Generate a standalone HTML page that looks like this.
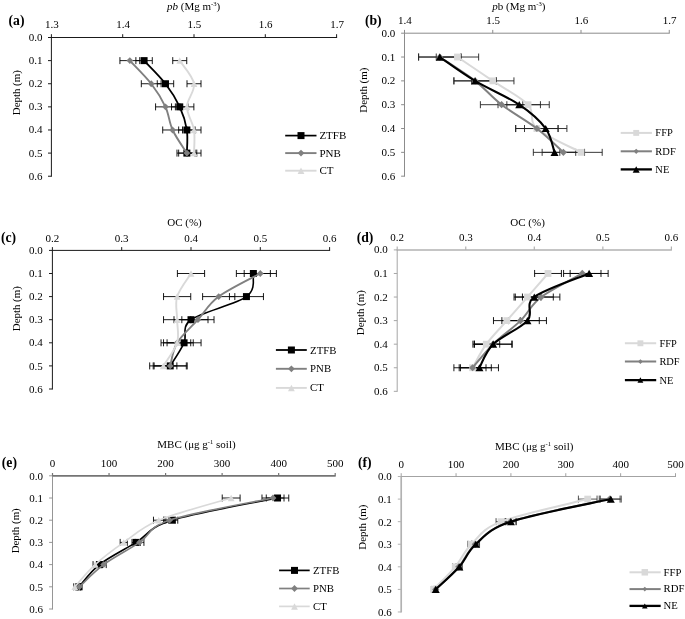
<!DOCTYPE html>
<html lang="en">
<head>
<meta charset="utf-8">
<title>Depth profiles of bulk density, organic carbon and microbial biomass carbon</title>
<style>
html,body{margin:0;padding:0;background:#fff;}
body{width:685px;height:619px;overflow:hidden;}
svg{display:block;will-change:transform;transform:translateZ(0);}
svg text{font-family:"Liberation Serif", "DejaVu Serif", serif;fill:#000;}
</style>
</head>
<body>
<svg width="685" height="619" viewBox="0 0 685 619">
<rect width="685" height="619" fill="#fff"/>
<g>
<line x1="50.9" y1="37.5" x2="337.1" y2="37.5" stroke="#1a1a1a" stroke-width="1"/>
<line x1="51.4" y1="37.5" x2="51.4" y2="176.72" stroke="#1a1a1a" stroke-width="1"/>
<line x1="51.4" y1="34.2" x2="51.4" y2="37.5" stroke="#1a1a1a" stroke-width="1"/>
<line x1="122.7" y1="34.2" x2="122.7" y2="37.5" stroke="#1a1a1a" stroke-width="1"/>
<line x1="194" y1="34.2" x2="194" y2="37.5" stroke="#1a1a1a" stroke-width="1"/>
<line x1="265.3" y1="34.2" x2="265.3" y2="37.5" stroke="#1a1a1a" stroke-width="1"/>
<line x1="336.6" y1="34.2" x2="336.6" y2="37.5" stroke="#1a1a1a" stroke-width="1"/>
<line x1="48" y1="37.5" x2="51.4" y2="37.5" stroke="#1a1a1a" stroke-width="1"/>
<line x1="48" y1="60.62" x2="51.4" y2="60.62" stroke="#1a1a1a" stroke-width="1"/>
<line x1="48" y1="83.74" x2="51.4" y2="83.74" stroke="#1a1a1a" stroke-width="1"/>
<line x1="48" y1="106.86" x2="51.4" y2="106.86" stroke="#1a1a1a" stroke-width="1"/>
<line x1="48" y1="129.98" x2="51.4" y2="129.98" stroke="#1a1a1a" stroke-width="1"/>
<line x1="48" y1="153.1" x2="51.4" y2="153.1" stroke="#1a1a1a" stroke-width="1"/>
<line x1="48" y1="176.22" x2="51.4" y2="176.22" stroke="#1a1a1a" stroke-width="1"/>
<text x="51.8" y="28.1" font-size="11" text-anchor="middle">1.3</text>
<text x="123.1" y="28.1" font-size="11" text-anchor="middle">1.4</text>
<text x="194.4" y="28.1" font-size="11" text-anchor="middle">1.5</text>
<text x="265.7" y="28.1" font-size="11" text-anchor="middle">1.6</text>
<text x="337" y="28.1" font-size="11" text-anchor="middle">1.7</text>
<text x="42.4" y="41" font-size="11" text-anchor="end">0.0</text>
<text x="42.4" y="64.12" font-size="11" text-anchor="end">0.1</text>
<text x="42.4" y="87.24" font-size="11" text-anchor="end">0.2</text>
<text x="42.4" y="110.36" font-size="11" text-anchor="end">0.3</text>
<text x="42.4" y="133.48" font-size="11" text-anchor="end">0.4</text>
<text x="42.4" y="156.6" font-size="11" text-anchor="end">0.5</text>
<text x="42.4" y="179.72" font-size="11" text-anchor="end">0.6</text>
<text x="193.6" y="10" font-size="11" text-anchor="middle"><tspan font-style="italic">pb</tspan> (Mg m<tspan font-size="6.6" dy="-4.2">-3</tspan><tspan dy="4.2">)</tspan></text>
<text x="8.5" y="24.8" font-size="13.7" font-weight="bold">(a)</text>
<text transform="translate(19.9 92.7) rotate(-90)" font-size="10.9" text-anchor="middle">Depth (m)</text>
<path d="M135.89 60.62H152.29M135.89 57.12V64.12M152.29 57.12V64.12M157.28 83.74H173.68M157.28 80.24V87.24M173.68 80.24V87.24M171.54 106.86H187.94M171.54 103.36V110.36M187.94 103.36V110.36M178.67 129.98H195.07M178.67 126.48V133.48M195.07 126.48V133.48M178.67 153.1H195.07M178.67 149.6V156.6M195.07 149.6V156.6" fill="none" stroke="#000" stroke-width="0.9"/>
<path d="M119.93 60.62H139.73M119.93 57.12V64.12M139.73 57.12V64.12M141.32 83.74H161.12M141.32 80.24V87.24M161.12 80.24V87.24M155.58 106.86H175.38M155.58 103.36V110.36M175.38 103.36V110.36M162.71 129.98H182.51M162.71 126.48V133.48M182.51 126.48V133.48M176.97 153.1H196.77M176.97 149.6V156.6M196.77 149.6V156.6" fill="none" stroke="#000" stroke-width="0.9"/>
<path d="M172.74 60.62H186.74M172.74 57.12V64.12M186.74 57.12V64.12M187 83.74H201M187 80.24V87.24M201 80.24V87.24M179.87 106.86H193.87M179.87 103.36V110.36M193.87 103.36V110.36M187 129.98H201M187 126.48V133.48M201 126.48V133.48M187 153.1H201M187 149.6V156.6M201 149.6V156.6" fill="none" stroke="#000" stroke-width="0.9"/>
<path d="M144.09 60.62 C147.65 64.47 159.54 76.03 165.48 83.74 C171.42 91.45 176.17 99.15 179.74 106.86 C183.3 114.57 185.68 122.27 186.87 129.98 C188.06 137.69 186.87 149.25 186.87 153.1" fill="none" stroke="#000000" stroke-width="1.8" stroke-linecap="round" stroke-linejoin="round"/>
<rect x="140.59" y="57.12" width="7" height="7" fill="#000000"/>
<rect x="161.98" y="80.24" width="7" height="7" fill="#000000"/>
<rect x="176.24" y="103.36" width="7" height="7" fill="#000000"/>
<rect x="183.37" y="126.48" width="7" height="7" fill="#000000"/>
<rect x="183.37" y="149.6" width="7" height="7" fill="#000000"/>
<path d="M129.83 60.62 C133.39 64.47 145.28 76.03 151.22 83.74 C157.16 91.45 161.91 99.15 165.48 106.86 C169.04 114.57 169.04 122.27 172.61 129.98 C176.17 137.69 184.49 149.25 186.87 153.1" fill="none" stroke="#808080" stroke-width="1.9" stroke-linecap="round" stroke-linejoin="round"/>
<polygon points="129.83,57.22 133.23,60.62 129.83,64.02 126.43,60.62" fill="#808080"/>
<polygon points="151.22,80.34 154.62,83.74 151.22,87.14 147.82,83.74" fill="#808080"/>
<polygon points="165.48,103.46 168.88,106.86 165.48,110.26 162.08,106.86" fill="#808080"/>
<polygon points="172.61,126.58 176.01,129.98 172.61,133.38 169.21,129.98" fill="#808080"/>
<polygon points="186.87,149.7 190.27,153.1 186.87,156.5 183.47,153.1" fill="#808080"/>
<path d="M179.74 60.62 C182.12 64.47 192.81 76.03 194 83.74 C195.19 91.45 186.87 99.15 186.87 106.86 C186.87 114.57 192.81 122.27 194 129.98 C195.19 137.69 194 149.25 194 153.1" fill="none" stroke="#d9d9d9" stroke-width="1.9" stroke-linecap="round" stroke-linejoin="round"/>
<polygon points="179.74,57.37 183.14,63.87 176.34,63.87" fill="#d9d9d9"/>
<polygon points="194,80.49 197.4,86.99 190.6,86.99" fill="#d9d9d9"/>
<polygon points="186.87,103.61 190.27,110.11 183.47,110.11" fill="#d9d9d9"/>
<polygon points="194,126.73 197.4,133.23 190.6,133.23" fill="#d9d9d9"/>
<polygon points="194,149.85 197.4,156.35 190.6,156.35" fill="#d9d9d9"/>
<line x1="285.2" y1="135.6" x2="316.5" y2="135.6" stroke="#000000" stroke-width="1.7"/>
<rect x="297.5" y="132.1" width="7" height="7" fill="#000000"/>
<text x="319.4" y="139.1" font-size="11">ZTFB</text>
<line x1="285.2" y1="153.1" x2="316.5" y2="153.1" stroke="#808080" stroke-width="1.9"/>
<polygon points="301,149.7 304.4,153.1 301,156.5 297.6,153.1" fill="#808080"/>
<text x="319.4" y="156.5" font-size="11">PNB</text>
<line x1="285.2" y1="170.7" x2="316.5" y2="170.7" stroke="#d9d9d9" stroke-width="1.9"/>
<polygon points="301,167.45 304.4,173.95 297.6,173.95" fill="#d9d9d9"/>
<text x="319.4" y="173.9" font-size="11">CT</text>
</g>
<g>
<line x1="404" y1="33.2" x2="669.75" y2="33.2" stroke="#8c8c8c" stroke-width="1"/>
<line x1="404.5" y1="33.2" x2="404.5" y2="176.68" stroke="#8c8c8c" stroke-width="1"/>
<line x1="404.5" y1="29.9" x2="404.5" y2="33.2" stroke="#8c8c8c" stroke-width="1"/>
<line x1="492.75" y1="29.9" x2="492.75" y2="33.2" stroke="#8c8c8c" stroke-width="1"/>
<line x1="581" y1="29.9" x2="581" y2="33.2" stroke="#8c8c8c" stroke-width="1"/>
<line x1="669.25" y1="29.9" x2="669.25" y2="33.2" stroke="#8c8c8c" stroke-width="1"/>
<line x1="401.1" y1="33.2" x2="404.5" y2="33.2" stroke="#8c8c8c" stroke-width="1"/>
<line x1="401.1" y1="57.03" x2="404.5" y2="57.03" stroke="#8c8c8c" stroke-width="1"/>
<line x1="401.1" y1="80.86" x2="404.5" y2="80.86" stroke="#8c8c8c" stroke-width="1"/>
<line x1="401.1" y1="104.69" x2="404.5" y2="104.69" stroke="#8c8c8c" stroke-width="1"/>
<line x1="401.1" y1="128.52" x2="404.5" y2="128.52" stroke="#8c8c8c" stroke-width="1"/>
<line x1="401.1" y1="152.35" x2="404.5" y2="152.35" stroke="#8c8c8c" stroke-width="1"/>
<line x1="401.1" y1="176.18" x2="404.5" y2="176.18" stroke="#8c8c8c" stroke-width="1"/>
<text x="404.9" y="23.9" font-size="11" text-anchor="middle">1.4</text>
<text x="493.15" y="23.9" font-size="11" text-anchor="middle">1.5</text>
<text x="581.4" y="23.9" font-size="11" text-anchor="middle">1.6</text>
<text x="669.65" y="23.9" font-size="11" text-anchor="middle">1.7</text>
<text x="395.3" y="36.7" font-size="11" text-anchor="end">0.0</text>
<text x="395.3" y="60.53" font-size="11" text-anchor="end">0.1</text>
<text x="395.3" y="84.36" font-size="11" text-anchor="end">0.2</text>
<text x="395.3" y="108.19" font-size="11" text-anchor="end">0.3</text>
<text x="395.3" y="132.02" font-size="11" text-anchor="end">0.4</text>
<text x="395.3" y="155.85" font-size="11" text-anchor="end">0.5</text>
<text x="395.3" y="179.68" font-size="11" text-anchor="end">0.6</text>
<text x="518.9" y="10" font-size="11" text-anchor="middle"><tspan font-style="italic">p</tspan>b (Mg m<tspan font-size="6.6" dy="-4.2">-3</tspan><tspan dy="4.2">)</tspan></text>
<text x="364.9" y="25.4" font-size="13.7" font-weight="bold">(b)</text>
<text transform="translate(367.2 90.2) rotate(-90)" font-size="10.9" text-anchor="middle">Depth (m)</text>
<path d="M436.25 57.03H478.65M436.25 53.53V60.53M478.65 53.53V60.53M471.55 80.86H513.95M471.55 77.36V84.36M513.95 77.36V84.36M506.85 104.69H549.25M506.85 101.19V108.19M549.25 101.19V108.19M515.68 128.52H558.08M515.68 125.02V132.02M558.08 125.02V132.02M559.8 152.35H602.2M559.8 148.85V155.85M602.2 148.85V155.85" fill="none" stroke="#222" stroke-width="0.9"/>
<path d="M418.6 57.03H461M418.6 53.53V60.53M461 53.53V60.53M453.9 80.86H496.3M453.9 77.36V84.36M496.3 77.36V84.36M480.38 104.69H522.78M480.38 101.19V108.19M522.78 101.19V108.19M515.68 128.52H558.08M515.68 125.02V132.02M558.08 125.02V132.02M542.15 152.35H584.55M542.15 148.85V155.85M584.55 148.85V155.85" fill="none" stroke="#222" stroke-width="0.9"/>
<path d="M418.6 57.03H461M418.6 53.53V60.53M461 53.53V60.53M453.9 80.86H496.3M453.9 77.36V84.36M496.3 77.36V84.36M498.03 104.69H540.43M498.03 101.19V108.19M540.43 101.19V108.19M524.5 128.52H566.9M524.5 125.02V132.02M566.9 125.02V132.02M533.33 152.35H575.73M533.33 148.85V155.85M575.73 148.85V155.85" fill="none" stroke="#222" stroke-width="0.9"/>
<path d="M457.45 57.03 C463.33 61 480.98 72.92 492.75 80.86 C504.52 88.8 520.7 96.75 528.05 104.69 C535.4 112.63 528.05 120.58 536.88 128.52 C545.7 136.46 573.65 148.38 581 152.35" fill="none" stroke="#d9d9d9" stroke-width="2" stroke-linecap="round" stroke-linejoin="round"/>
<rect x="454.05" y="53.63" width="6.8" height="6.8" fill="#d9d9d9"/>
<rect x="489.35" y="77.46" width="6.8" height="6.8" fill="#d9d9d9"/>
<rect x="524.65" y="101.29" width="6.8" height="6.8" fill="#d9d9d9"/>
<rect x="533.48" y="125.12" width="6.8" height="6.8" fill="#d9d9d9"/>
<rect x="577.6" y="148.95" width="6.8" height="6.8" fill="#d9d9d9"/>
<path d="M439.8 57.03 C445.68 61 464.8 72.92 475.1 80.86 C485.4 88.8 491.28 96.75 501.58 104.69 C511.87 112.63 526.58 120.58 536.88 128.52 C547.17 136.46 558.94 148.38 563.35 152.35" fill="none" stroke="#808080" stroke-width="2" stroke-linecap="round" stroke-linejoin="round"/>
<polygon points="439.8,53.43 443.4,57.03 439.8,60.63 436.2,57.03" fill="#808080"/>
<polygon points="475.1,77.26 478.7,80.86 475.1,84.46 471.5,80.86" fill="#808080"/>
<polygon points="501.58,101.09 505.18,104.69 501.58,108.29 497.98,104.69" fill="#808080"/>
<polygon points="536.88,124.92 540.48,128.52 536.88,132.12 533.28,128.52" fill="#808080"/>
<polygon points="563.35,148.75 566.95,152.35 563.35,155.95 559.75,152.35" fill="#808080"/>
<path d="M439.8 57.03 C445.68 61 461.86 72.92 475.1 80.86 C488.34 88.8 507.46 96.75 519.23 104.69 C530.99 112.63 539.82 120.58 545.7 128.52 C551.58 136.46 553.05 148.38 554.53 152.35" fill="none" stroke="#000000" stroke-width="2.1" stroke-linecap="round" stroke-linejoin="round"/>
<polygon points="439.8,53.43 443.8,60.63 435.8,60.63" fill="#000000"/>
<polygon points="475.1,77.26 479.1,84.46 471.1,84.46" fill="#000000"/>
<polygon points="519.23,101.09 523.23,108.29 515.23,108.29" fill="#000000"/>
<polygon points="545.7,124.92 549.7,132.12 541.7,132.12" fill="#000000"/>
<polygon points="554.53,148.75 558.53,155.95 550.53,155.95" fill="#000000"/>
<line x1="620.7" y1="132.9" x2="651.9" y2="132.9" stroke="#d9d9d9" stroke-width="2"/>
<rect x="633.25" y="129.95" width="5.9" height="5.9" fill="#d9d9d9"/>
<text x="655.3" y="136.2" font-size="10.5">FFP</text>
<line x1="620.7" y1="151.3" x2="651.9" y2="151.3" stroke="#808080" stroke-width="2"/>
<polygon points="636.2,148.7 638.8,151.3 636.2,153.9 633.6,151.3" fill="#808080"/>
<text x="655.3" y="154.6" font-size="10.5">RDF</text>
<line x1="620.7" y1="169.4" x2="651.9" y2="169.4" stroke="#000000" stroke-width="2.3"/>
<polygon points="636.2,166.15 639.7,172.65 632.7,172.65" fill="#000000"/>
<text x="655.3" y="172.9" font-size="10.5">NE</text>
</g>
<g>
<line x1="51.9" y1="250.4" x2="330.1" y2="250.4" stroke="#1a1a1a" stroke-width="1"/>
<line x1="52.4" y1="250.4" x2="52.4" y2="389.5" stroke="#1a1a1a" stroke-width="1"/>
<line x1="52.4" y1="247.1" x2="52.4" y2="250.4" stroke="#1a1a1a" stroke-width="1"/>
<line x1="121.7" y1="247.1" x2="121.7" y2="250.4" stroke="#1a1a1a" stroke-width="1"/>
<line x1="191" y1="247.1" x2="191" y2="250.4" stroke="#1a1a1a" stroke-width="1"/>
<line x1="260.3" y1="247.1" x2="260.3" y2="250.4" stroke="#1a1a1a" stroke-width="1"/>
<line x1="329.6" y1="247.1" x2="329.6" y2="250.4" stroke="#1a1a1a" stroke-width="1"/>
<line x1="49" y1="250.4" x2="52.4" y2="250.4" stroke="#1a1a1a" stroke-width="1"/>
<line x1="49" y1="273.5" x2="52.4" y2="273.5" stroke="#1a1a1a" stroke-width="1"/>
<line x1="49" y1="296.6" x2="52.4" y2="296.6" stroke="#1a1a1a" stroke-width="1"/>
<line x1="49" y1="319.7" x2="52.4" y2="319.7" stroke="#1a1a1a" stroke-width="1"/>
<line x1="49" y1="342.8" x2="52.4" y2="342.8" stroke="#1a1a1a" stroke-width="1"/>
<line x1="49" y1="365.9" x2="52.4" y2="365.9" stroke="#1a1a1a" stroke-width="1"/>
<line x1="49" y1="389" x2="52.4" y2="389" stroke="#1a1a1a" stroke-width="1"/>
<text x="52.4" y="241.8" font-size="11" text-anchor="middle">0.2</text>
<text x="121.7" y="241.8" font-size="11" text-anchor="middle">0.3</text>
<text x="191" y="241.8" font-size="11" text-anchor="middle">0.4</text>
<text x="260.3" y="241.8" font-size="11" text-anchor="middle">0.5</text>
<text x="329.6" y="241.8" font-size="11" text-anchor="middle">0.6</text>
<text x="42.85" y="254" font-size="11" text-anchor="end">0.0</text>
<text x="42.85" y="277.1" font-size="11" text-anchor="end">0.1</text>
<text x="42.85" y="300.2" font-size="11" text-anchor="end">0.2</text>
<text x="42.85" y="323.3" font-size="11" text-anchor="end">0.3</text>
<text x="42.85" y="346.4" font-size="11" text-anchor="end">0.4</text>
<text x="42.85" y="369.5" font-size="11" text-anchor="end">0.5</text>
<text x="42.85" y="392.6" font-size="11" text-anchor="end">0.6</text>
<text x="184.5" y="225.7" font-size="11" text-anchor="middle">OC (%)</text>
<text x="0.9" y="241.8" font-size="13.7" font-weight="bold">(c)</text>
<text transform="translate(20.2 308.7) rotate(-90)" font-size="10.9" text-anchor="middle">Depth (m)</text>
<path d="M236.37 273.5H270.37M236.37 270V277M270.37 270V277M229.44 296.6H263.44M229.44 293.1V300.1M263.44 293.1V300.1M174 319.7H208M174 316.2V323.2M208 316.2V323.2M167.07 342.8H201.07M167.07 339.3V346.3M201.07 339.3V346.3M153.21 365.9H187.21M153.21 362.4V369.4M187.21 362.4V369.4" fill="none" stroke="#000" stroke-width="0.9"/>
<path d="M244.2 273.5H276.4M244.2 270V277M276.4 270V277M202.62 296.6H234.82M202.62 293.1V300.1M234.82 293.1V300.1M181.83 319.7H214.03M181.83 316.2V323.2M214.03 316.2V323.2M161.04 342.8H193.24M161.04 339.3V346.3M193.24 339.3V346.3M154.11 365.9H186.31M154.11 362.4V369.4M186.31 362.4V369.4" fill="none" stroke="#000" stroke-width="0.9"/>
<path d="M177.4 273.5H204.6M177.4 270V277M204.6 270V277M163.54 296.6H190.74M163.54 293.1V300.1M190.74 293.1V300.1M163.54 319.7H190.74M163.54 316.2V323.2M190.74 316.2V323.2M163.54 342.8H190.74M163.54 339.3V346.3M190.74 339.3V346.3M149.68 365.9H176.88M149.68 362.4V369.4M176.88 362.4V369.4" fill="none" stroke="#000" stroke-width="0.9"/>
<path d="M253.37 273.5 C252.21 277.35 256.83 288.9 246.44 296.6 C236.04 304.3 201.39 312 191 319.7 C180.61 327.4 187.53 335.1 184.07 342.8 C180.6 350.5 172.52 362.05 170.21 365.9" fill="none" stroke="#000000" stroke-width="1.6" stroke-linecap="round" stroke-linejoin="round"/>
<rect x="249.87" y="270" width="7" height="7" fill="#000000"/>
<rect x="242.94" y="293.1" width="7" height="7" fill="#000000"/>
<rect x="187.5" y="316.2" width="7" height="7" fill="#000000"/>
<rect x="180.57" y="339.3" width="7" height="7" fill="#000000"/>
<rect x="166.71" y="362.4" width="7" height="7" fill="#000000"/>
<path d="M260.3 273.5 C253.37 277.35 229.12 288.9 218.72 296.6 C208.32 304.3 204.86 312 197.93 319.7 C191 327.4 181.76 335.1 177.14 342.8 C172.52 350.5 171.36 362.05 170.21 365.9" fill="none" stroke="#808080" stroke-width="1.9" stroke-linecap="round" stroke-linejoin="round"/>
<polygon points="260.3,270.1 263.7,273.5 260.3,276.9 256.9,273.5" fill="#808080"/>
<polygon points="218.72,293.2 222.12,296.6 218.72,300 215.32,296.6" fill="#808080"/>
<polygon points="197.93,316.3 201.33,319.7 197.93,323.1 194.53,319.7" fill="#808080"/>
<polygon points="177.14,339.4 180.54,342.8 177.14,346.2 173.74,342.8" fill="#808080"/>
<polygon points="170.21,362.5 173.61,365.9 170.21,369.3 166.81,365.9" fill="#808080"/>
<path d="M191 273.5 C188.69 277.35 179.45 288.9 177.14 296.6 C174.83 304.3 177.14 312 177.14 319.7 C177.14 327.4 179.45 335.1 177.14 342.8 C174.83 350.5 165.59 362.05 163.28 365.9" fill="none" stroke="#d9d9d9" stroke-width="1.9" stroke-linecap="round" stroke-linejoin="round"/>
<polygon points="191,270.25 194.4,276.75 187.6,276.75" fill="#d9d9d9"/>
<polygon points="177.14,293.35 180.54,299.85 173.74,299.85" fill="#d9d9d9"/>
<polygon points="177.14,316.45 180.54,322.95 173.74,322.95" fill="#d9d9d9"/>
<polygon points="177.14,339.55 180.54,346.05 173.74,346.05" fill="#d9d9d9"/>
<polygon points="163.28,362.65 166.68,369.15 159.88,369.15" fill="#d9d9d9"/>
<line x1="275.9" y1="350" x2="306.8" y2="350" stroke="#000000" stroke-width="1.8"/>
<rect x="287.9" y="346.5" width="7" height="7" fill="#000000"/>
<text x="310.1" y="353.6" font-size="10.8">ZTFB</text>
<line x1="275.9" y1="368.8" x2="306.8" y2="368.8" stroke="#808080" stroke-width="1.9"/>
<polygon points="291.4,365.4 294.8,368.8 291.4,372.2 288,368.8" fill="#808080"/>
<text x="310.1" y="372.4" font-size="10.8">PNB</text>
<line x1="275.9" y1="387.9" x2="306.8" y2="387.9" stroke="#d9d9d9" stroke-width="1.9"/>
<polygon points="291.4,384.65 294.8,391.15 288,391.15" fill="#d9d9d9"/>
<text x="310.1" y="391.4" font-size="10.8">CT</text>
</g>
<g>
<line x1="396.7" y1="249.9" x2="671.9" y2="249.9" stroke="#b2b2b2" stroke-width="1.5"/>
<line x1="397.2" y1="249.9" x2="397.2" y2="391.82" stroke="#a6a6a6" stroke-width="1"/>
<line x1="397.2" y1="246.6" x2="397.2" y2="249.9" stroke="#b2b2b2" stroke-width="1.2"/>
<line x1="465.75" y1="246.6" x2="465.75" y2="249.9" stroke="#b2b2b2" stroke-width="1.2"/>
<line x1="534.3" y1="246.6" x2="534.3" y2="249.9" stroke="#b2b2b2" stroke-width="1.2"/>
<line x1="602.85" y1="246.6" x2="602.85" y2="249.9" stroke="#b2b2b2" stroke-width="1.2"/>
<line x1="671.4" y1="246.6" x2="671.4" y2="249.9" stroke="#b2b2b2" stroke-width="1.2"/>
<line x1="393.8" y1="249.9" x2="397.2" y2="249.9" stroke="#a6a6a6" stroke-width="1"/>
<line x1="393.8" y1="273.47" x2="397.2" y2="273.47" stroke="#a6a6a6" stroke-width="1"/>
<line x1="393.8" y1="297.04" x2="397.2" y2="297.04" stroke="#a6a6a6" stroke-width="1"/>
<line x1="393.8" y1="320.61" x2="397.2" y2="320.61" stroke="#a6a6a6" stroke-width="1"/>
<line x1="393.8" y1="344.18" x2="397.2" y2="344.18" stroke="#a6a6a6" stroke-width="1"/>
<line x1="393.8" y1="367.75" x2="397.2" y2="367.75" stroke="#a6a6a6" stroke-width="1"/>
<line x1="393.8" y1="391.32" x2="397.2" y2="391.32" stroke="#a6a6a6" stroke-width="1"/>
<text x="397.2" y="240.8" font-size="11" text-anchor="middle">0.2</text>
<text x="465.75" y="240.8" font-size="11" text-anchor="middle">0.3</text>
<text x="534.3" y="240.8" font-size="11" text-anchor="middle">0.4</text>
<text x="602.85" y="240.8" font-size="11" text-anchor="middle">0.5</text>
<text x="671.4" y="240.8" font-size="11" text-anchor="middle">0.6</text>
<text x="387.8" y="253.4" font-size="11" text-anchor="end">0.0</text>
<text x="387.8" y="276.97" font-size="11" text-anchor="end">0.1</text>
<text x="387.8" y="300.54" font-size="11" text-anchor="end">0.2</text>
<text x="387.8" y="324.11" font-size="11" text-anchor="end">0.3</text>
<text x="387.8" y="347.68" font-size="11" text-anchor="end">0.4</text>
<text x="387.8" y="371.25" font-size="11" text-anchor="end">0.5</text>
<text x="387.8" y="394.82" font-size="11" text-anchor="end">0.6</text>
<text x="527.6" y="225.7" font-size="11" text-anchor="middle">OC (%)</text>
<text x="356.7" y="241.8" font-size="13.7" font-weight="bold">(d)</text>
<text transform="translate(363.7 312.7) rotate(-90)" font-size="10.9" text-anchor="middle">Depth (m)</text>
<path d="M534.61 273.47H561.41M534.61 269.97V276.97M561.41 269.97V276.97M514.04 297.04H540.84M514.04 293.54V300.54M540.84 293.54V300.54M493.48 320.61H520.28M493.48 317.11V324.11M520.28 317.11V324.11M472.92 344.18H499.71M472.92 340.68V347.68M499.71 340.68V347.68M459.2 367.75H486M459.2 364.25V371.25M486 364.25V371.25" fill="none" stroke="#000" stroke-width="0.9"/>
<path d="M563.58 273.47H600.99M563.58 269.97V276.97M600.99 269.97V276.97M522.45 297.04H559.86M522.45 293.54V300.54M559.86 293.54V300.54M501.89 320.61H539.29M501.89 317.11V324.11M539.29 317.11V324.11M474.47 344.18H511.87M474.47 340.68V347.68M511.87 340.68V347.68M453.9 367.75H491.3M453.9 364.25V371.25M491.3 364.25V371.25" fill="none" stroke="#000" stroke-width="0.9"/>
<path d="M570.14 273.47H608.14M570.14 269.97V276.97M608.14 269.97V276.97M515.3 297.04H553.3M515.3 293.54V300.54M553.3 293.54V300.54M508.44 320.61H546.44M508.44 317.11V324.11M546.44 317.11V324.11M474.17 344.18H512.17M474.17 340.68V347.68M512.17 340.68V347.68M460.46 367.75H498.46M460.46 364.25V371.25M498.46 364.25V371.25" fill="none" stroke="#000" stroke-width="0.9"/>
<path d="M548.01 273.47 C544.58 277.4 534.3 289.18 527.44 297.04 C520.59 304.9 513.73 312.75 506.88 320.61 C500.02 328.47 492.03 336.32 486.31 344.18 C480.6 352.04 474.89 363.82 472.6 367.75" fill="none" stroke="#d9d9d9" stroke-width="2" stroke-linecap="round" stroke-linejoin="round"/>
<rect x="544.61" y="270.07" width="6.8" height="6.8" fill="#d9d9d9"/>
<rect x="524.04" y="293.64" width="6.8" height="6.8" fill="#d9d9d9"/>
<rect x="503.48" y="317.21" width="6.8" height="6.8" fill="#d9d9d9"/>
<rect x="482.92" y="340.78" width="6.8" height="6.8" fill="#d9d9d9"/>
<rect x="469.2" y="364.35" width="6.8" height="6.8" fill="#d9d9d9"/>
<path d="M582.28 273.47 C575.43 277.4 551.44 289.18 541.15 297.04 C530.87 304.9 528.59 312.75 520.59 320.61 C512.59 328.47 501.17 336.32 493.17 344.18 C485.17 352.04 476.03 363.82 472.6 367.75" fill="none" stroke="#808080" stroke-width="2" stroke-linecap="round" stroke-linejoin="round"/>
<polygon points="582.28,269.87 585.88,273.47 582.28,277.07 578.68,273.47" fill="#808080"/>
<polygon points="541.15,293.44 544.75,297.04 541.15,300.64 537.55,297.04" fill="#808080"/>
<polygon points="520.59,317.01 524.19,320.61 520.59,324.21 516.99,320.61" fill="#808080"/>
<polygon points="493.17,340.58 496.77,344.18 493.17,347.78 489.57,344.18" fill="#808080"/>
<polygon points="472.6,364.15 476.2,367.75 472.6,371.35 469,367.75" fill="#808080"/>
<path d="M589.14 273.47 C580 277.4 544.58 289.18 534.3 297.04 C524.02 304.9 534.3 312.75 527.44 320.61 C520.59 328.47 501.17 336.32 493.17 344.18 C485.17 352.04 481.75 363.82 479.46 367.75" fill="none" stroke="#000000" stroke-width="2.1" stroke-linecap="round" stroke-linejoin="round"/>
<polygon points="589.14,269.87 593.14,277.07 585.14,277.07" fill="#000000"/>
<polygon points="534.3,293.44 538.3,300.64 530.3,300.64" fill="#000000"/>
<polygon points="527.44,317.01 531.44,324.21 523.44,324.21" fill="#000000"/>
<polygon points="493.17,340.58 497.17,347.78 489.17,347.78" fill="#000000"/>
<polygon points="479.46,364.15 483.46,371.35 475.46,371.35" fill="#000000"/>
<line x1="624.9" y1="343.3" x2="656.2" y2="343.3" stroke="#d9d9d9" stroke-width="2"/>
<rect x="637.45" y="340.35" width="5.9" height="5.9" fill="#d9d9d9"/>
<text x="659.4" y="346.8" font-size="10.4">FFP</text>
<line x1="624.9" y1="361.6" x2="656.2" y2="361.6" stroke="#808080" stroke-width="2"/>
<polygon points="640.4,359.2 642.8,361.6 640.4,364 638,361.6" fill="#808080"/>
<text x="659.4" y="365.1" font-size="10.4">RDF</text>
<line x1="624.9" y1="380.1" x2="656.2" y2="380.1" stroke="#000000" stroke-width="2.3"/>
<polygon points="640.4,377.35 643.35,382.85 637.45,382.85" fill="#000000"/>
<text x="659.4" y="383.6" font-size="10.4">NE</text>
</g>
<g>
<line x1="52" y1="475.8" x2="335.7" y2="475.8" stroke="#747474" stroke-width="1.75"/>
<line x1="52.5" y1="475.8" x2="52.5" y2="609.5" stroke="#8a8a8a" stroke-width="0.9"/>
<line x1="52.5" y1="473" x2="52.5" y2="475.8" stroke="#747474" stroke-width="1.2"/>
<line x1="109.04" y1="473" x2="109.04" y2="475.8" stroke="#747474" stroke-width="1.2"/>
<line x1="165.58" y1="473" x2="165.58" y2="475.8" stroke="#747474" stroke-width="1.2"/>
<line x1="222.12" y1="473" x2="222.12" y2="475.8" stroke="#747474" stroke-width="1.2"/>
<line x1="278.66" y1="473" x2="278.66" y2="475.8" stroke="#747474" stroke-width="1.2"/>
<line x1="335.2" y1="473" x2="335.2" y2="475.8" stroke="#747474" stroke-width="1.2"/>
<line x1="49.1" y1="475.8" x2="52.5" y2="475.8" stroke="#8a8a8a" stroke-width="0.9"/>
<line x1="49.1" y1="498" x2="52.5" y2="498" stroke="#8a8a8a" stroke-width="0.9"/>
<line x1="49.1" y1="520.2" x2="52.5" y2="520.2" stroke="#8a8a8a" stroke-width="0.9"/>
<line x1="49.1" y1="542.4" x2="52.5" y2="542.4" stroke="#8a8a8a" stroke-width="0.9"/>
<line x1="49.1" y1="564.6" x2="52.5" y2="564.6" stroke="#8a8a8a" stroke-width="0.9"/>
<line x1="49.1" y1="586.8" x2="52.5" y2="586.8" stroke="#8a8a8a" stroke-width="0.9"/>
<line x1="49.1" y1="609" x2="52.5" y2="609" stroke="#8a8a8a" stroke-width="0.9"/>
<text x="52.5" y="467" font-size="11" text-anchor="middle">0</text>
<text x="109.04" y="467" font-size="11" text-anchor="middle">100</text>
<text x="165.58" y="467" font-size="11" text-anchor="middle">200</text>
<text x="222.12" y="467" font-size="11" text-anchor="middle">300</text>
<text x="278.66" y="467" font-size="11" text-anchor="middle">400</text>
<text x="335.2" y="467" font-size="11" text-anchor="middle">500</text>
<text x="43" y="479.6" font-size="11" text-anchor="end">0.0</text>
<text x="43" y="501.8" font-size="11" text-anchor="end">0.1</text>
<text x="43" y="524" font-size="11" text-anchor="end">0.2</text>
<text x="43" y="546.2" font-size="11" text-anchor="end">0.3</text>
<text x="43" y="568.4" font-size="11" text-anchor="end">0.4</text>
<text x="43" y="590.6" font-size="11" text-anchor="end">0.5</text>
<text x="43" y="612.8" font-size="11" text-anchor="end">0.6</text>
<text x="196.5" y="448.4" font-size="11" text-anchor="middle">MBC (μg g<tspan font-size="6.6" dy="-4.2">-1</tspan><tspan dy="4.2"> soil)</tspan></text>
<text x="1.8" y="466.8" font-size="13.7" font-weight="bold">(e)</text>
<text transform="translate(19.1 530.8) rotate(-90)" font-size="10.9" text-anchor="middle">Depth (m)</text>
<path d="M266.28 498H288.78M266.28 494.5V501.5M288.78 494.5V501.5M165.83 520.2H177.76M165.83 516.7V523.7M177.76 516.7V523.7M132 542.4H140.36M132 538.9V545.9M140.36 538.9V545.9M97.08 564.6H101.77M97.08 561.1V568.1M101.77 561.1V568.1M77.75 586.8H80.4M77.75 583.3V590.3M80.4 583.3V590.3" fill="none" stroke="#000" stroke-width="0.9"/>
<path d="M261.98 498H284.03M261.98 494.5V501.5M284.03 494.5V501.5M163.69 520.2H175.39M163.69 516.7V523.7M175.39 516.7V523.7M135.22 542.4H143.93M135.22 538.9V545.9M143.93 538.9V545.9M101.11 564.6H106.23M101.11 561.1V568.1M106.23 561.1V568.1M78.01 586.8H80.7M78.01 583.3V590.3M80.7 583.3V590.3" fill="none" stroke="#000" stroke-width="0.9"/>
<path d="M222.23 498H240.1M222.23 494.5V501.5M240.1 494.5V501.5M153.48 520.2H164.11M153.48 516.7V523.7M164.11 516.7V523.7M120.18 542.4H127.3M120.18 538.9V545.9M127.3 538.9V545.9M93.05 564.6H97.32M93.05 561.1V568.1M97.32 561.1V568.1M73.72 586.8H75.95M73.72 583.3V590.3M75.95 583.3V590.3" fill="none" stroke="#000" stroke-width="0.9"/>
<path d="M277.53 498 C259.91 501.7 195.36 512.8 171.8 520.2 C148.24 527.6 148.24 535 136.18 542.4 C124.12 549.8 108.95 557.2 99.43 564.6 C89.91 572 82.47 583.1 79.07 586.8" fill="none" stroke="#000000" stroke-width="1.7" stroke-linecap="round" stroke-linejoin="round"/>
<rect x="274.03" y="494.5" width="7" height="7" fill="#000000"/>
<rect x="168.3" y="516.7" width="7" height="7" fill="#000000"/>
<rect x="132.68" y="538.9" width="7" height="7" fill="#000000"/>
<rect x="95.93" y="561.1" width="7" height="7" fill="#000000"/>
<rect x="75.57" y="583.3" width="7" height="7" fill="#000000"/>
<path d="M273.01 498 C255.76 501.7 191.78 512.8 169.54 520.2 C147.3 527.6 150.55 535 139.57 542.4 C128.59 549.8 113.7 557.2 103.67 564.6 C93.63 572 83.41 583.1 79.36 586.8" fill="none" stroke="#808080" stroke-width="1.7" stroke-linecap="round" stroke-linejoin="round"/>
<polygon points="273.01,494.6 276.41,498 273.01,501.4 269.61,498" fill="#808080"/>
<polygon points="169.54,516.8 172.94,520.2 169.54,523.6 166.14,520.2" fill="#808080"/>
<polygon points="139.57,539 142.97,542.4 139.57,545.8 136.17,542.4" fill="#808080"/>
<polygon points="103.67,561.2 107.07,564.6 103.67,568 100.27,564.6" fill="#808080"/>
<polygon points="79.36,583.4 82.76,586.8 79.36,590.2 75.96,586.8" fill="#808080"/>
<path d="M231.17 498 C219.1 501.7 176.7 512.8 158.8 520.2 C140.89 527.6 134.34 535 123.74 542.4 C113.14 549.8 103.34 557.2 95.19 564.6 C87.04 572 78.23 583.1 74.83 586.8" fill="none" stroke="#d9d9d9" stroke-width="1.7" stroke-linecap="round" stroke-linejoin="round"/>
<polygon points="231.17,494.75 234.57,501.25 227.77,501.25" fill="#d9d9d9"/>
<polygon points="158.8,516.95 162.2,523.45 155.4,523.45" fill="#d9d9d9"/>
<polygon points="123.74,539.15 127.14,545.65 120.34,545.65" fill="#d9d9d9"/>
<polygon points="95.19,561.35 98.59,567.85 91.79,567.85" fill="#d9d9d9"/>
<polygon points="74.83,583.55 78.23,590.05 71.43,590.05" fill="#d9d9d9"/>
<line x1="279.1" y1="570.4" x2="309.7" y2="570.4" stroke="#000000" stroke-width="1.7"/>
<rect x="291" y="566.9" width="7" height="7" fill="#000000"/>
<text x="313" y="573.9" font-size="10.8">ZTFB</text>
<line x1="279.1" y1="588.5" x2="309.7" y2="588.5" stroke="#808080" stroke-width="1.7"/>
<polygon points="294.5,585.1 297.9,588.5 294.5,591.9 291.1,588.5" fill="#808080"/>
<text x="313" y="592" font-size="10.8">PNB</text>
<line x1="279.1" y1="606.4" x2="309.7" y2="606.4" stroke="#d9d9d9" stroke-width="1.7"/>
<polygon points="294.5,603.15 297.9,609.65 291.1,609.65" fill="#d9d9d9"/>
<text x="313" y="610.1" font-size="10.8">CT</text>
</g>
<g>
<line x1="400.7" y1="476.5" x2="676" y2="476.5" stroke="#999999" stroke-width="0.9"/>
<line x1="401.2" y1="476.5" x2="401.2" y2="612.48" stroke="#b2b2b2" stroke-width="1.7"/>
<line x1="401.2" y1="473.2" x2="401.2" y2="476.5" stroke="#999999" stroke-width="0.9"/>
<line x1="456.06" y1="473.2" x2="456.06" y2="476.5" stroke="#999999" stroke-width="0.9"/>
<line x1="510.92" y1="473.2" x2="510.92" y2="476.5" stroke="#999999" stroke-width="0.9"/>
<line x1="565.78" y1="473.2" x2="565.78" y2="476.5" stroke="#999999" stroke-width="0.9"/>
<line x1="620.64" y1="473.2" x2="620.64" y2="476.5" stroke="#999999" stroke-width="0.9"/>
<line x1="675.5" y1="473.2" x2="675.5" y2="476.5" stroke="#999999" stroke-width="0.9"/>
<line x1="397.8" y1="476.5" x2="401.2" y2="476.5" stroke="#b2b2b2" stroke-width="1"/>
<line x1="397.8" y1="499.08" x2="401.2" y2="499.08" stroke="#b2b2b2" stroke-width="1"/>
<line x1="397.8" y1="521.66" x2="401.2" y2="521.66" stroke="#b2b2b2" stroke-width="1"/>
<line x1="397.8" y1="544.24" x2="401.2" y2="544.24" stroke="#b2b2b2" stroke-width="1"/>
<line x1="397.8" y1="566.82" x2="401.2" y2="566.82" stroke="#b2b2b2" stroke-width="1"/>
<line x1="397.8" y1="589.4" x2="401.2" y2="589.4" stroke="#b2b2b2" stroke-width="1"/>
<line x1="397.8" y1="611.98" x2="401.2" y2="611.98" stroke="#b2b2b2" stroke-width="1"/>
<text x="401.2" y="467.6" font-size="11" text-anchor="middle">0</text>
<text x="456.06" y="467.6" font-size="11" text-anchor="middle">100</text>
<text x="510.92" y="467.6" font-size="11" text-anchor="middle">200</text>
<text x="565.78" y="467.6" font-size="11" text-anchor="middle">300</text>
<text x="620.64" y="467.6" font-size="11" text-anchor="middle">400</text>
<text x="675.5" y="467.6" font-size="11" text-anchor="middle">500</text>
<text x="391.7" y="480.4" font-size="11" text-anchor="end">0.0</text>
<text x="391.7" y="502.98" font-size="11" text-anchor="end">0.1</text>
<text x="391.7" y="525.56" font-size="11" text-anchor="end">0.2</text>
<text x="391.7" y="548.14" font-size="11" text-anchor="end">0.3</text>
<text x="391.7" y="570.72" font-size="11" text-anchor="end">0.4</text>
<text x="391.7" y="593.3" font-size="11" text-anchor="end">0.5</text>
<text x="391.7" y="615.88" font-size="11" text-anchor="end">0.6</text>
<text x="534.2" y="449.8" font-size="11" text-anchor="middle">MBC (μg g<tspan font-size="6.6" dy="-4.2">-1</tspan><tspan dy="4.2"> soil)</tspan></text>
<text x="357.9" y="467.1" font-size="13.7" font-weight="bold">(f)</text>
<text transform="translate(366 527.1) rotate(-90)" font-size="10.9" text-anchor="middle">Depth (m)</text>
<path d="M578.4 499.08H597.05M578.4 495.58V502.58M597.05 495.58V502.58M496.05 521.66H506.04M496.05 518.16V525.16M506.04 518.16V525.16M467.91 544.24H474.93M467.91 540.74V547.74M474.93 540.74V547.74M452.54 566.82H457.94M452.54 563.32V570.32M457.94 563.32V570.32M431.95 589.4H435.19M431.95 585.9V592.9M435.19 585.9V592.9" fill="none" stroke="#333" stroke-width="0.85"/>
<path d="M599.24 499.08H620.09M599.24 495.58V502.58M620.09 495.58V502.58M504.91 521.66H515.83M504.91 518.16V525.16M515.83 518.16V525.16M471.56 544.24H478.96M471.56 540.74V547.74M478.96 540.74V547.74M455.92 566.82H461.68M455.92 563.32V570.32M461.68 563.32V570.32M434.03 589.4H437.49M434.03 585.9V592.9M437.49 585.9V592.9" fill="none" stroke="#333" stroke-width="0.85"/>
<path d="M600.29 499.08H621.24M600.29 495.58V502.58M621.24 495.58V502.58M505.43 521.66H516.41M505.43 518.16V525.16M516.41 518.16V525.16M472.08 544.24H479.54M472.08 540.74V547.74M479.54 540.74V547.74M456.44 566.82H462.26M456.44 563.32V570.32M462.26 563.32V570.32M434.03 589.4H437.49M434.03 585.9V592.9M437.49 585.9V592.9" fill="none" stroke="#333" stroke-width="0.85"/>
<path d="M587.72 499.08 C573.28 502.84 520.43 514.13 501.05 521.66 C481.66 529.19 479.06 536.71 471.42 544.24 C463.79 551.77 461.55 559.29 455.24 566.82 C448.93 574.35 437.18 585.64 433.57 589.4" fill="none" stroke="#d9d9d9" stroke-width="2" stroke-linecap="round" stroke-linejoin="round"/>
<rect x="584.32" y="495.68" width="6.8" height="6.8" fill="#d9d9d9"/>
<rect x="497.65" y="518.26" width="6.8" height="6.8" fill="#d9d9d9"/>
<rect x="468.02" y="540.84" width="6.8" height="6.8" fill="#d9d9d9"/>
<rect x="451.84" y="563.42" width="6.8" height="6.8" fill="#d9d9d9"/>
<rect x="430.17" y="586" width="6.8" height="6.8" fill="#d9d9d9"/>
<path d="M609.67 499.08 C593.12 502.84 532.77 514.13 510.37 521.66 C487.97 529.19 483.86 536.71 475.26 544.24 C466.67 551.77 465.39 559.29 458.8 566.82 C452.22 574.35 439.6 585.64 435.76 589.4" fill="none" stroke="#808080" stroke-width="2" stroke-linecap="round" stroke-linejoin="round"/>
<polygon points="609.67,495.48 613.27,499.08 609.67,502.68 606.07,499.08" fill="#808080"/>
<polygon points="510.37,518.06 513.97,521.66 510.37,525.26 506.77,521.66" fill="#808080"/>
<polygon points="475.26,540.64 478.86,544.24 475.26,547.84 471.66,544.24" fill="#808080"/>
<polygon points="458.8,563.22 462.4,566.82 458.8,570.42 455.2,566.82" fill="#808080"/>
<polygon points="435.76,585.8 439.36,589.4 435.76,593 432.16,589.4" fill="#808080"/>
<path d="M610.77 499.08 C594.12 502.84 533.41 514.13 510.92 521.66 C488.43 529.19 484.4 536.71 475.81 544.24 C467.21 551.77 466.03 559.29 459.35 566.82 C452.68 574.35 439.69 585.64 435.76 589.4" fill="none" stroke="#000000" stroke-width="2.1" stroke-linecap="round" stroke-linejoin="round"/>
<polygon points="610.77,495.48 614.77,502.68 606.77,502.68" fill="#000000"/>
<polygon points="510.92,518.06 514.92,525.26 506.92,525.26" fill="#000000"/>
<polygon points="475.81,540.64 479.81,547.84 471.81,547.84" fill="#000000"/>
<polygon points="459.35,563.22 463.35,570.42 455.35,570.42" fill="#000000"/>
<polygon points="435.76,585.8 439.76,593 431.76,593" fill="#000000"/>
<line x1="629.5" y1="572.3" x2="660.7" y2="572.3" stroke="#d9d9d9" stroke-width="2"/>
<rect x="641.55" y="569.05" width="6.5" height="6.5" fill="#d9d9d9"/>
<text x="663.6" y="575.8" font-size="10.7">FFP</text>
<line x1="629.5" y1="589.1" x2="660.7" y2="589.1" stroke="#808080" stroke-width="2"/>
<polygon points="644.8,586.8 647.1,589.1 644.8,591.4 642.5,589.1" fill="#808080"/>
<text x="663.6" y="592.4" font-size="10.7">RDF</text>
<line x1="629.5" y1="605.9" x2="660.7" y2="605.9" stroke="#000000" stroke-width="2.3"/>
<polygon points="644.8,603.4 647.6,608.4 642,608.4" fill="#000000"/>
<text x="663.6" y="609.4" font-size="10.7">NE</text>
</g>
</svg>
</body>
</html>
